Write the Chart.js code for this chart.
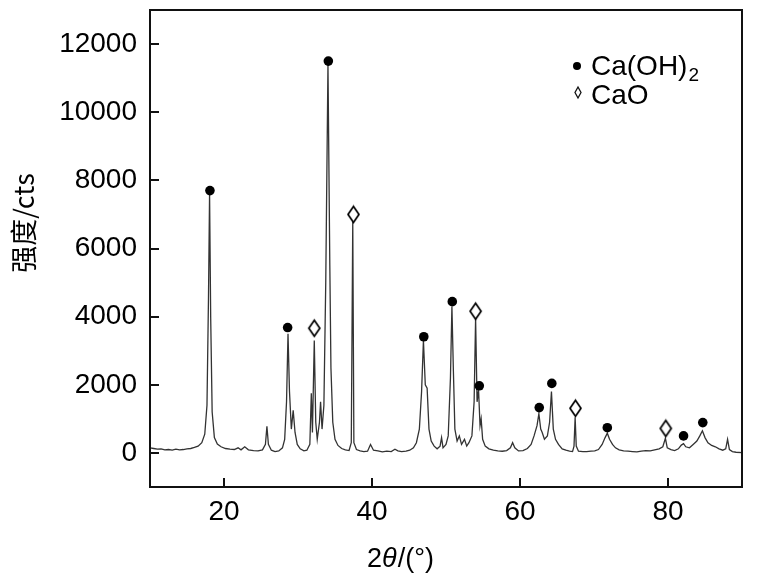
<!DOCTYPE html>
<html>
<head>
<meta charset="utf-8">
<script src="https://cdn.jsdelivr.net/npm/chart.js@4/dist/chart.umd.min.js"></script>
<style>
  body { margin: 0; background: #fff; }
</style>
</head>
<body>
<canvas id="xrdChart" width="757" height="582"></canvas>
<script>
// 2θ 값과 강도(cts) - 그림에서 읽은 값
var twoTheta = [
  10.0, 10.5, 11.0, 11.5, 12.0, 12.5, 13.0, 13.5, 14.0, 14.5, 15.0, 15.5, 16.0, 16.5, 17.0,
  17.4, 17.7, 17.9, 18.05, 18.2, 18.4, 18.7, 19.1, 19.6, 20.2, 20.8, 21.4, 21.9, 22.3, 22.8,
  23.3, 24.0, 24.6, 25.2, 25.6, 25.8, 26.0, 26.4, 26.9, 27.4, 27.9, 28.2, 28.45, 28.65, 28.85,
  29.1, 29.35, 29.6, 29.9, 30.3, 30.8, 31.2, 31.6, 31.8, 31.95, 32.2, 32.4, 32.6, 32.9, 33.05,
  33.25, 33.5, 33.75, 34.05, 34.3, 34.45, 34.7, 35.0, 35.4, 35.9, 36.4, 36.9, 37.2, 37.4, 37.55,
  37.9, 38.4, 38.9, 39.4, 39.8, 40.2, 40.8, 41.4, 42.0, 42.6, 43.1, 43.5, 44.0, 44.6, 45.1,
  45.6, 46.0, 46.4, 46.7, 46.95, 47.2, 47.45, 47.7, 48.0, 48.4, 48.8, 49.2, 49.4, 49.6, 50.0,
  50.3, 50.6, 50.8, 51.0, 51.2, 51.5, 51.8, 52.1, 52.5, 52.8, 53.1, 53.5, 53.8, 54.0, 54.2,
  54.4, 54.6, 54.75, 54.95, 55.3, 55.8, 56.4, 57.0, 57.6, 58.2, 58.7, 59.0, 59.3, 59.8, 60.4,
  61.0, 61.5, 61.9, 62.3, 62.55, 62.8, 63.0, 63.3, 63.7, 64.0, 64.25, 64.5, 64.8, 65.2, 65.7,
  66.2, 66.7, 67.1, 67.3, 67.45, 67.6, 67.9, 68.5, 69.0, 69.6, 70.1, 70.6, 71.1, 71.5, 71.8,
  72.1, 72.5, 72.9, 73.4, 74.0, 74.6, 75.2, 75.8, 76.4, 77.0, 77.6, 78.2, 78.8, 79.3, 79.65,
  79.9, 80.4, 80.9, 81.4, 81.8, 82.1, 82.4, 82.9, 83.4, 83.9, 84.3, 84.65, 85.0, 85.4, 85.9,
  86.4, 86.9, 87.4, 87.8, 88.05, 88.3, 88.7, 89.2, 90.0
];
var counts = [
  150, 130, 110, 120, 90, 100, 80, 110, 90, 100, 120, 130, 160, 200, 300,
  550, 1400, 4500, 7600, 4000, 1200, 450, 260, 180, 130, 110, 100, 150, 90, 180,
  90, 70, 60, 90, 250, 780, 250, 80, 40, 60, 150, 400, 1500, 3500, 1800,
  700, 1250, 600, 250, 120, 60, 80, 250, 1750, 600, 3300, 900, 400, 900, 1500,
  700, 1400, 5000, 11400, 5500, 2500, 900, 400, 220, 130, 90, 70, 300, 6800, 300,
  100, 60, 40, 50, 250, 80, 60, 30, 50, 40, 110, 60, 40, 50, 80,
  150, 300, 700, 1800, 3300, 2000, 1900, 700, 350, 200, 120, 200, 450, 150, 250,
  500, 2200, 4300, 2400, 700, 350, 500, 250, 400, 200, 300, 500, 1500, 3950, 1500,
  1850, 800, 1000, 400, 200, 120, 80, 60, 50, 70, 150, 300, 150, 60, 70,
  130, 250, 500, 800, 1150, 700, 600, 400, 500, 900, 1800, 700, 400, 250, 120,
  80, 50, 40, 200, 1050, 200, 50, 40, 40, 50, 60, 100, 250, 450, 580,
  400, 250, 150, 90, 60, 50, 40, 30, 50, 70, 60, 90, 120, 180, 430,
  150, 100, 70, 120, 230, 270, 180, 150, 250, 350, 500, 650, 450, 300, 220,
  180, 120, 80, 120, 400, 100, 40, 20, 10
];

// 물상 표시 위치 (● Ca(OH)2, ◇ CaO)
var caohX = [18.1, 28.6, 34.1, 47.0, 50.85, 54.5, 62.6, 64.3, 71.8, 82.1, 84.7];
var caohY = [7700, 3680, 11500, 3410, 4440, 1970, 1330, 2040, 740, 500, 890];
var caoX = [32.2, 37.5, 54.0, 67.5, 79.7];
var caoY = [3660, 7000, 4160, 1310, 720];

var xTicks = [20, 40, 60, 80];
var yTicks = [0, 2000, 4000, 6000, 8000, 10000, 12000];

function toPoints(xs, ys) {
  var pts = [];
  for (var i = 0; i < xs.length; i++) pts.push({ x: xs[i], y: ys[i] });
  return pts;
}

// 세로로 긴 마름모 모양 (CaO)
function makeDiamond(w, h) {
  var c = document.createElement('canvas');
  c.width = w + 4; c.height = h + 4;
  var g = c.getContext('2d');
  g.beginPath();
  g.moveTo(c.width / 2, 2);
  g.lineTo(c.width - 2, c.height / 2);
  g.lineTo(c.width / 2, c.height - 2);
  g.lineTo(2, c.height / 2);
  g.closePath();
  g.fillStyle = '#fff';
  g.fill();
  g.lineWidth = 1.7;
  g.strokeStyle = '#000';
  g.stroke();
  return c;
}
var diamondImg = makeDiamond(11, 16);

var SANS = '"Liberation Sans", Arial, sans-serif';

// 테두리, 안쪽 눈금, 범례, 축 제목
var framePlugin = {
  id: 'frame',
  afterDraw: function (chart) {
    var ctx = chart.ctx;
    var a = chart.chartArea;
    var xs = chart.scales.x, ys = chart.scales.y;
    ctx.save();
    ctx.strokeStyle = '#111';
    ctx.lineWidth = 2;
    ctx.strokeRect(a.left, a.top, a.right - a.left, a.bottom - a.top);
    ctx.beginPath();
    yTicks.forEach(function (v) {
      var py = Math.round(ys.getPixelForValue(v));
      ctx.moveTo(a.left, py); ctx.lineTo(a.left + 9, py);
    });
    xTicks.forEach(function (v) {
      var px = Math.round(xs.getPixelForValue(v));
      ctx.moveTo(px, a.bottom); ctx.lineTo(px, a.bottom - 9);
    });
    ctx.stroke();

    // 범례
    ctx.fillStyle = '#000';
    ctx.beginPath();
    ctx.arc(577, 66, 4, 0, Math.PI * 2);
    ctx.fill();
    ctx.beginPath();
    ctx.moveTo(578, 87); ctx.lineTo(581, 92.5); ctx.lineTo(578, 98); ctx.lineTo(575, 92.5);
    ctx.closePath();
    ctx.lineWidth = 1.3;
    ctx.stroke();
    ctx.textAlign = 'left';
    ctx.textBaseline = 'alphabetic';
    ctx.font = '28px ' + SANS;
    ctx.fillText('Ca(OH)', 591, 75);
    var w = ctx.measureText('Ca(OH)').width;
    ctx.font = '19px ' + SANS;
    ctx.fillText('2', 591 + w + 1, 81);
    ctx.font = '28px ' + SANS;
    ctx.fillText('CaO', 591, 104);

    // x축 제목
    var p1 = '2', p2 = '\u03b8', p3 = '/(\u00b0)';
    ctx.font = '27px ' + SANS;
    var w1 = ctx.measureText(p1).width;
    var w3 = ctx.measureText(p3).width;
    ctx.font = 'italic 27px ' + SANS;
    var w2 = ctx.measureText(p2).width;
    var sx = 400 - (w1 + w2 + w3) / 2;
    ctx.font = '27px ' + SANS;
    ctx.fillText(p1, sx, 567);
    ctx.font = 'italic 27px ' + SANS;
    ctx.fillText(p2, sx + w1, 567);
    ctx.font = '27px ' + SANS;
    ctx.fillText(p3, sx + w1 + w2 + 1, 567);

    // y축 제목
    ctx.translate(24, 223);
    ctx.rotate(-Math.PI / 2);
    ctx.textAlign = 'center';
    ctx.textBaseline = 'middle';
    ctx.font = '27px "Noto Sans CJK SC", ' + SANS;
    ctx.fillText('\u5f3a\u5ea6/cts', 0, 0);
    ctx.restore();
  }
};

var chartArea = document.getElementById('xrdChart').getContext('2d');
var xrdChart = new Chart(chartArea, {
  type: 'scatter',
  data: {
    datasets: [
      {
        label: 'Ca(OH)2',
        data: toPoints(caohX, caohY),
        pointStyle: 'circle',
        pointRadius: 4.8,
        backgroundColor: '#000',
        borderColor: '#000',
        borderWidth: 0,
        order: 0
      },
      {
        label: 'CaO',
        data: toPoints(caoX, caoY),
        pointStyle: diamondImg,
        order: 1
      },
      {
        label: 'XRD',
        data: toPoints(twoTheta, counts),
        showLine: true,
        borderColor: '#333',
        borderWidth: 1.3,
        pointRadius: 0,
        tension: 0,
        order: 2
      }
    ]
  },
  options: {
    responsive: false,
    animation: false,
    layout: { padding: { top: 10, right: 15, left: 0, bottom: 0 } },
    plugins: {
      legend: { display: false },
      tooltip: { enabled: false }
    },
    scales: {
      x: {
        type: 'linear',
        min: 10,
        max: 90,
        grid: { display: false, drawTicks: false },
        border: { display: false },
        afterBuildTicks: function (scale) {
          scale.ticks = xTicks.map(function (v) { return { value: v }; });
        },
        afterFit: function (scale) {
          scale.height = 95;
          scale.paddingLeft = 0; scale.paddingRight = 0;
        },
        ticks: {
          color: '#000',
          padding: 8,
          maxRotation: 0,
          font: { family: SANS, size: 28 },
          callback: function (v) { return String(v); }
        }
      },
      y: {
        type: 'linear',
        min: -1000,
        max: 13000,
        grid: { display: false, drawTicks: false },
        border: { display: false },
        afterBuildTicks: function (scale) {
          scale.ticks = yTicks.map(function (v) { return { value: v }; });
        },
        afterFit: function (scale) {
          scale.width = 150;
          scale.paddingTop = 0; scale.paddingBottom = 0;
        },
        ticks: {
          color: '#000',
          padding: 13,
          font: { family: SANS, size: 28 },
          callback: function (v) { return String(v); }
        }
      }
    }
  },
  plugins: [framePlugin]
});
</script>
</body>
</html>
